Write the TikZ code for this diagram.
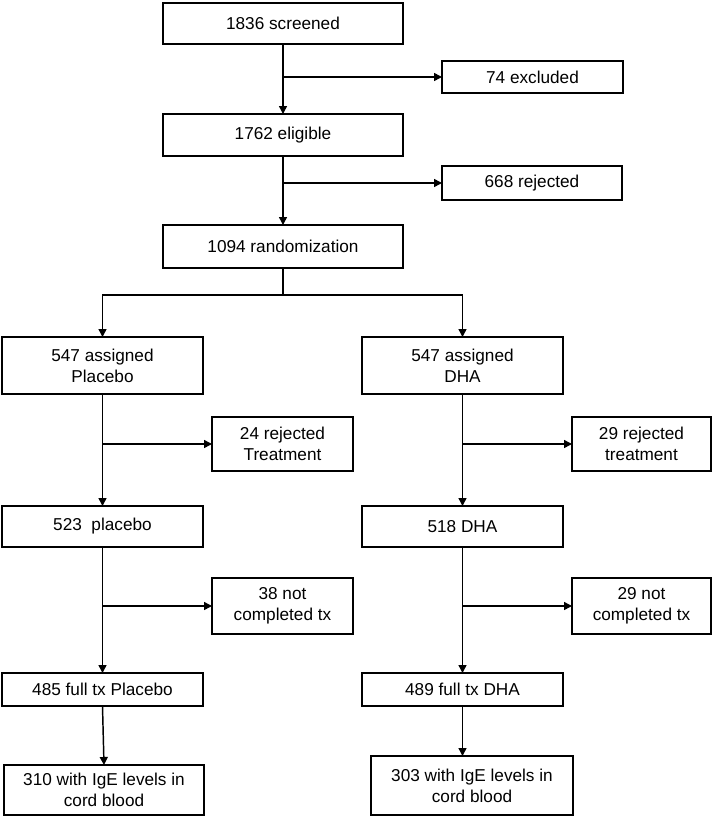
\documentclass[tikz,border=0pt]{standalone}
\usepackage{fontspec}
\setmainfont{Liberation Sans}
\usetikzlibrary{arrows.meta}
\begin{document}
\begin{tikzpicture}[x=0.75pt, y=-0.75pt,
  every node/.style={draw, line width=1.1pt, inner sep=0pt, outer sep=0pt, align=center,
    font=\fontsize{12.9}{15.75}\selectfont},
  flow/.style={line width=1.1pt, -{Triangle[length=6pt, width=6pt]}},
  link/.style={line width=1.1pt}]
\useasboundingbox (0,0) rectangle (714,817);
% top part
\node[minimum width=180pt, minimum height=30.75pt] (screened) at (283,23.5) {1836 screened};
\node[minimum width=135.75pt, minimum height=24pt] (excluded) at (532.5,77) {74 excluded};
\node[minimum width=180pt, minimum height=31.5pt] (eligible) at (283,135) {1762 eligible};
\node[minimum width=135pt, minimum height=25.5pt] (rejected) at (532,183) {668 rejected};
\node[minimum width=180pt, minimum height=32.25pt] (random) at (283,246.5) {1094 randomization};
\coordinate (split) at (283,295);
% placebo arm
\node[minimum width=150.75pt, minimum height=42.75pt] (asgPlacebo) at (102.5,365.5) {547 assigned\\Placebo};
\node[minimum width=105.75pt, minimum height=40.5pt] (rejPlacebo) at (282.5,444) {24 rejected\\Treatment};
\node[minimum width=150.75pt, minimum height=30.75pt] (placebo) at (102.5,526.5) {523~~placebo};
\node[minimum width=105.75pt, minimum height=42pt] (notPlacebo) at (282.5,606) {38 not\\completed tx};
\node[minimum width=150.75pt, minimum height=24.75pt] (fullPlacebo) at (102.5,689.5) {485 full tx Placebo};
\node[minimum width=150pt, minimum height=37.5pt] (igePlacebo) at (104,790) {310 with IgE levels in\\cord blood};
% DHA arm
\node[minimum width=150.75pt, minimum height=42.75pt] (asgDHA) at (462.5,365.5) {547 assigned\\DHA};
\node[minimum width=104.25pt, minimum height=40.5pt] (rejDHA) at (641.5,444) {29 rejected\\treatment};
\node[minimum width=150.75pt, minimum height=30.75pt] (dha) at (462.5,526.5) {518 DHA};
\node[minimum width=104.25pt, minimum height=42pt] (notDHA) at (641.5,606) {29 not\\completed tx};
\node[minimum width=150.75pt, minimum height=24.75pt] (fullDHA) at (462.5,689.5) {489 full tx DHA};
\node[minimum width=151.5pt, minimum height=44.25pt] (igeDHA) at (472,785.5) {303 with IgE levels in\\cord blood};
% connectors
\draw[flow] (screened) -- (eligible);
\draw[flow] (screened.south |- excluded.west) -- (excluded.west);
\draw[flow] (eligible) -- (random);
\draw[flow] (eligible.south |- rejected.west) -- (rejected.west);
\draw[link] (random) -- (split);
\draw[flow] (split) -| (asgPlacebo);
\draw[flow] (split) -| (asgDHA);
\draw[flow] (asgPlacebo) -- (placebo);
\draw[flow] (asgPlacebo.south |- rejPlacebo.west) -- (rejPlacebo.west);
\draw[flow] (placebo) -- (fullPlacebo);
\draw[flow] (placebo.south |- notPlacebo.west) -- (notPlacebo.west);
\draw[flow] (fullPlacebo.south) -- (igePlacebo.north);
\draw[flow] (asgDHA) -- (dha);
\draw[flow] (asgDHA.south |- rejDHA.west) -- (rejDHA.west);
\draw[flow] (dha) -- (fullDHA);
\draw[flow] (dha.south |- notDHA.west) -- (notDHA.west);
\draw[flow] (fullDHA.south) -- (fullDHA.south |- igeDHA.north);
\end{tikzpicture}
\end{document}
